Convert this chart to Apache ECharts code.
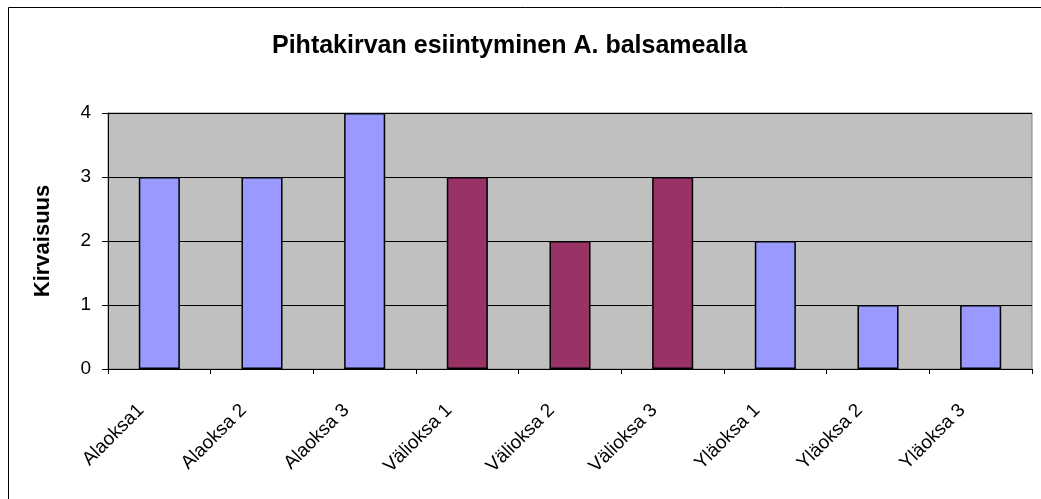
<!DOCTYPE html>
<html>
<head>
<meta charset="utf-8">
<script src="https://cdn.jsdelivr.net/npm/echarts@6/dist/echarts.min.js"></script>
<style>
  html, body { margin: 0; padding: 0; background: #fff; }
  #chart { width: 1041px; height: 499px; }
</style>
</head>
<body>
<div id="chart"></div>
<script>
const categories = ["Alaoksa1", "Alaoksa 2", "Alaoksa 3", "Välioksa 1", "Välioksa 2", "Välioksa 3", "Yläoksa 1", "Yläoksa 2", "Yläoksa 3"];
const values = [3, 3, 4, 3, 2, 3, 2, 1, 1];
const barColors = ["#9999ff", "#9999ff", "#9999ff", "#993366", "#993366", "#993366", "#9999ff", "#9999ff", "#9999ff"];
const yTicks = [0, 1, 2, 3, 4];

const font = "'Liberation Sans', Arial, sans-serif";
const chart = echarts.init(document.getElementById("chart"));

const option = {
  backgroundColor: "#ffffff",
  animation: false,
  title: {
    text: "Pihtakirvan esiintyminen A. balsamealla",
    left: 272,
    top: 34,
    padding: 0,
    textStyle: { fontFamily: font, fontSize: 25, fontWeight: "bold", color: "#000" }
  },
  graphic: [
    {
      type: "rect",
      shape: { x: 8.5, y: 7.5, width: 1100, height: 600 },
      style: { fill: null, stroke: "#000", lineWidth: 1 },
      silent: true,
      z: 100
    }
  ],
  grid: {
    left: 108,
    right: 9,
    top: 113,
    bottom: 130,
    show: true,
    backgroundColor: "#c0c0c0",
    borderColor: "#808080",
    borderWidth: 1
  },
  xAxis: {
    type: "category",
    data: categories,
    axisLine: { lineStyle: { color: "#000", width: 1 } },
    axisTick: { show: true, length: 5, interval: 0, lineStyle: { color: "#000" } },
    axisLabel: {
      interval: 0,
      rotate: 45,
      margin: 20,
      padding: [0, 26, 0, 0],
      fontFamily: font,
      fontSize: 19,
      color: "#000"
    }
  },
  yAxis: {
    type: "value",
    min: yTicks[0],
    max: yTicks[yTicks.length - 1],
    interval: 1,
    name: "Kirvaisuus",
    nameLocation: "middle",
    nameGap: 54,
    nameTextStyle: { fontFamily: font, fontSize: 22, fontWeight: "bold", color: "#000" },
    axisLine: { show: true, lineStyle: { color: "#000", width: 1 } },
    axisTick: { show: true, length: 6, lineStyle: { color: "#000" } },
    axisLabel: { margin: 17, fontFamily: font, fontSize: 19, color: "#000" },
    splitLine: { show: true, lineStyle: { color: "#000", width: 1 } }
  },
  series: [
    {
      type: "bar",
      barWidth: "40%",
      data: values.map((v, i) => ({
        value: v,
        itemStyle: { color: barColors[i], borderColor: "#000", borderWidth: 1.5 }
      }))
    }
  ]
};

chart.setOption(option);
</script>
</body>
</html>
